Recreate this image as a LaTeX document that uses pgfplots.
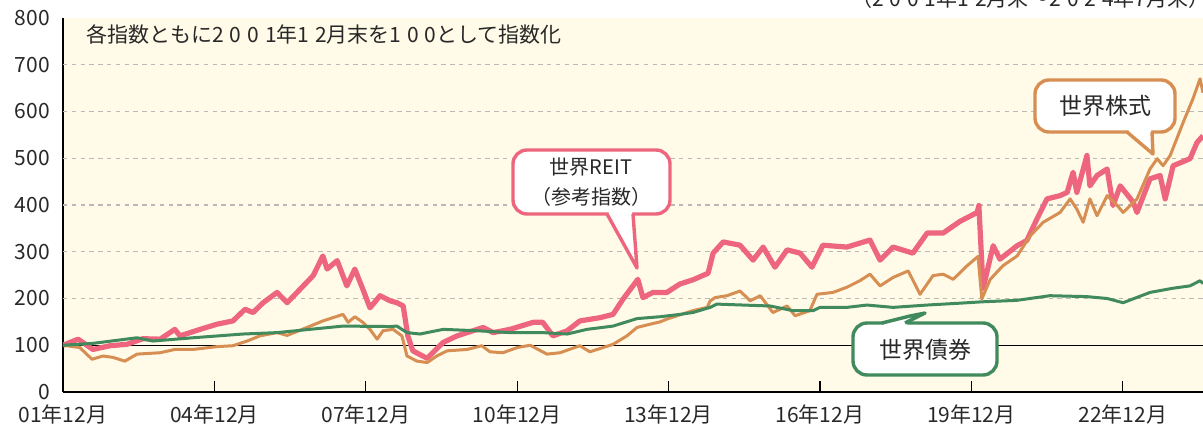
\documentclass[border=0pt]{standalone}
\usepackage{fontspec}
\setmainfont{Noto Sans CJK JP}
\newfontfamily\digs{Noto Sans CJK JP}[LetterSpace=28]
\usepackage{pgfplots}
\pgfplotsset{compat=1.18}
\definecolor{bgc}{RGB}{255,251,232}
\definecolor{gridc}{RGB}{185,185,185}
\definecolor{reitc}{RGB}{238,102,126}
\definecolor{stockc}{RGB}{215,142,82}
\definecolor{bondc}{RGB}{64,138,94}
\definecolor{txt}{RGB}{40,40,40}
\begin{document}
\begin{tikzpicture}
\begin{axis}[
  at={(0,0)}, anchor=south west,
  scale only axis, width=570pt, height=187pt,
  xmin=0, xmax=271.1, ymin=0, ymax=800,
  axis x line*=bottom, axis y line*=left,
  axis line style={black, line width=0.7pt},
  axis background/.style={fill=bgc},
  ytick={0,100,...,800},
  xtick={0,36,72,108,144,180,216,252},
  xticklabels={01年12月,04年12月,07年12月,10年12月,13年12月,16年12月,19年12月,22年12月},
  tick align=inside,
  major tick length=5.5pt,
  ytick style={draw=none},
  xtick style={black, line width=0.6pt},
  /pgf/number format/assume math mode=true,
  ticklabel style={font=\fontsize{10.5}{12}\selectfont, text=txt},
  yticklabel style={xshift=-3pt},
  xticklabel style={yshift=-3pt},
]
\pgfplotsinvokeforeach{200,300,400,500,600,700}{
  \draw[gridc, dash pattern=on 2.2pt off 2.2pt, line width=0.6pt] (axis cs:0,#1) -- (axis cs:271.1,#1);
}
\draw[black, line width=0.6pt] (axis cs:0,100) -- (axis cs:271.1,100);
% World REIT
\addplot[reitc, line width=2.6pt, line join=round] coordinates {
(0,100) (3.6,113) (7.1,91) (11.2,99) (15.2,102) (19,114) (23.1,113) (26.6,134) (27.8,120)
(32.6,134) (36.6,145) (40.4,152) (43.3,177) (45.2,170) (47.6,191) (50.9,213) (53.3,191)
(56.4,220) (59.5,249) (61.8,291) (62.8,263) (65.2,281) (67.5,227) (69.4,263) (71.3,220)
(73,180) (75.4,206) (77.8,195) (79.4,191) (80.9,184) (82,120) (83.2,88) (86.6,72)
(90.4,106) (93.7,120) (99.9,138) (102.3,127) (106.3,134) (111.8,149) (114.1,149) (116.5,120)
(119.9,131) (122.9,152) (127.7,159) (130.8,166) (133.2,199) (136.7,241) (137.9,202) (140.3,213)
(143.6,213) (146.7,231) (149.8,240) (153.4,254) (154.6,297) (157,321) (161,314) (164.1,282)
(166.5,310) (169.3,267) (172.2,304) (175.3,297) (178.1,267) (180.7,314) (186.4,310) (191.9,325)
(194.3,282) (197.4,310) (202.1,297) (205.5,340) (209.3,340) (213.3,365) (217.4,384) (217.8,399)
(218.8,222) (221.2,313) (222.8,284) (226.9,313) (229.2,324) (231.6,370) (234,413) (237.1,420)
(238.8,427) (240.2,470) (241.1,427) (243.5,506) (244.2,441) (245.9,463) (248.3,477) (249.7,399)
(251.4,441) (254.5,406) (255.4,384) (258.5,456) (260.9,463) (262.1,413) (264,484) (268,499)
(269.7,534) (271.1,548)
};
% World stocks
\addplot[stockc, line width=1.5pt, line join=round] coordinates {
(0,100) (4,95) (6.9,70) (9.5,77) (11.9,74) (14.7,66) (17.6,81) (23.1,84) (26.6,91) (30.9,91)
(36.6,97) (40.4,99) (43.8,109) (46.8,120) (50.9,127) (53.3,121) (58,138) (61.8,152) (66.6,166)
(67.8,149) (69.4,161) (71.3,149) (73,134) (74.7,113) (76.1,131) (78.5,134) (80.6,120) (81.8,77)
(84.2,66) (86.6,63) (88.9,77) (91.3,88) (96.1,91) (99.6,99) (101.5,86) (104.6,84) (108,95)
(111.1,100) (115.1,81) (118.2,84) (122.9,99) (125.3,86) (130.8,102) (134.1,120) (136.5,138)
(139.6,145) (142,150) (143.6,156) (146,163) (149.8,174) (153.2,181) (153.9,195) (155.1,202)
(157.9,206) (161,216) (163.4,195) (165.8,206) (168.8,170) (172.2,184) (174.1,163) (177.6,174)
(179.3,209) (183.1,213) (186.4,224) (189.5,238) (191.9,252) (194.3,227) (197.4,245) (201,259)
(203.8,209) (206.9,249) (209.3,252) (211.7,241) (215,270) (217.6,290) (218.5,199) (220.5,241)
(223.5,270) (226.9,291) (230,334) (233.1,363) (237.1,384) (239.5,413) (241.1,391) (242.6,363)
(244.2,413) (245.9,377) (248.3,420) (250.7,399) (252.1,384) (255.4,413) (258.5,477) (260.2,499)
(261.6,484) (263.3,506) (266.4,577) (268.7,627) (270.4,670) (271.1,640)
};
% World bonds
\addplot[bondc, line width=1.5pt, line join=round] coordinates {
(0,100) (7.1,104) (17.6,116) (21.4,109) (30.9,116) (42.8,124) (50.9,127) (58.7,134) (66.6,141)
(77.8,140) (79.4,141) (81.8,127) (84.9,124) (90.4,134) (98.5,131) (106.3,127) (114.1,127)
(119.9,124) (124.6,134) (130.8,141) (136.5,157) (142,161) (146.7,166) (149.8,170) (153.9,181)
(155.5,188) (161.7,186) (168.1,184) (173.6,174) (178.4,174) (180,181) (186.4,181) (191.2,186)
(197.4,181) (205.5,186) (213.3,190) (218.8,193) (226.8,196) (234.7,206) (243.5,204) (248.3,200)
(252.1,191) (258.5,213) (264,222) (268,227) (270.4,238) (271.1,232)
};
\end{axis}
\begin{scope}[x=0.5pt, y=-0.5pt, shift={(-31.5pt,196pt)}]
  % annotation and title
  \node[anchor=west, inner sep=0pt, text=txt, font=\fontsize{10.5}{12}\selectfont] at (86,34) {各指数ともに{\digs 2001}年{\digs 12}月末を{\digs 100}として指数化};
  \node[anchor=base east, inner sep=0pt, text=txt, font=\fontsize{10.5}{12}\selectfont] at (1210,7) {（{\digs 2001}年{\digs 12}月末～{\digs 2024}年{\digs 7}月末）};
  % REIT bubble
  \draw[reitc, line width=1.7pt, fill=white, rounded corners=7pt] (513,150) rectangle (670,214);
  \fill[white] (608.5,209) -- (608.5,214) -- (636.5,265) -- (632,214) -- (632,209) -- cycle;
  \draw[reitc, line width=1.7pt, line join=round] (607,214) -- (637,268) -- (633,214);
  \node[text=txt, align=center, font=\fontsize{10}{15}\selectfont] at (591,182) {世界REIT\\（参考指数）};
  % Stocks bubble
  \draw[stockc, line width=1.7pt, fill=white, rounded corners=7pt] (1035,80) rectangle (1175,132);
  \fill[white] (1128.5,127) -- (1128.5,132) -- (1152.5,151) -- (1151,132) -- (1151,127) -- cycle;
  \draw[stockc, line width=1.7pt, line join=round] (1127,132) -- (1153,154) -- (1152,132);
  \node[text=txt, font=\fontsize{11.5}{13}\selectfont] at (1105,106) {世界株式};
  % Bonds bubble
  \draw[bondc, line width=1.7pt, fill=white, rounded corners=7pt] (853,323) rectangle (997,375);
  \fill[white] (884,328) -- (884,323) -- (910,317) -- (923,315) -- (907,323) -- (907,328) -- cycle;
  \draw[bondc, line width=1.7pt, line join=round] (882,323) -- (910,316) -- (925,313) -- (905,323);
  \node[text=txt, font=\fontsize{11.5}{13}\selectfont] at (925,350) {世界債券};
  \pgfresetboundingbox
  \path[use as bounding box] (0,0) rectangle (1203,427);
\end{scope}
\end{tikzpicture}
\end{document}
